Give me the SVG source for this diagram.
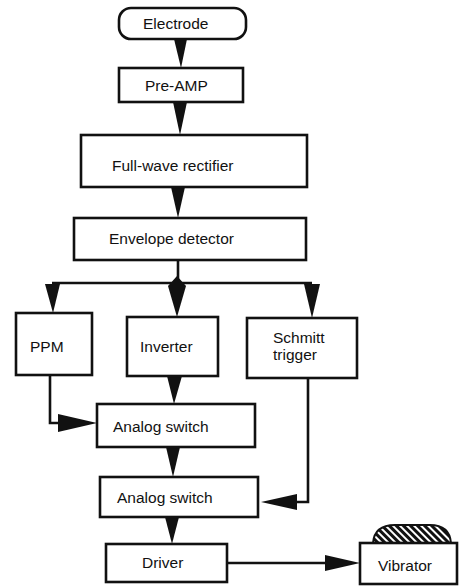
<svg xmlns="http://www.w3.org/2000/svg" width="459" height="587" viewBox="0 0 459 587">
<defs>
<style>
.box{fill:#fff;stroke:#111;stroke-width:2.6}
.lbl{font-family:"Liberation Sans",Arial,sans-serif;font-size:15.5px;fill:#111}
.ln{fill:none;stroke:#111;stroke-width:2.6}
.ah{fill:#111;stroke:none}
</style>
<pattern id="hatch" width="5" height="5" patternUnits="userSpaceOnUse" patternTransform="rotate(-45)">
<rect width="5" height="5" fill="#111"/>
<rect width="2" height="5" fill="#fff"/>
</pattern>
</defs>
<rect width="459" height="587" fill="#fff"/>

<g id="connectors">
<polygon class="ah" points="174,39 187,39 181,68"/>
<polygon class="ah" points="173,102 187,102 180,135"/>
<polygon class="ah" points="171,187 185,187 178,218"/>
<line class="ln" x1="178" y1="260" x2="178" y2="283"/>
<line class="ln" x1="52" y1="283" x2="312" y2="283"/>
<polygon class="ah" points="45,284 60,284 53,313"/>
<polygon class="ah" points="177,276 186,286 177,317 168,286"/>
<polygon class="ah" points="304,284 320,284 312,318"/>
<polyline class="ln" points="50,375 50,423 60,423"/>
<polygon class="ah" points="58,414 58,432 97,423"/>
<polygon class="ah" points="167,376 182,376 174,404"/>
<polygon class="ah" points="166,447 180,447 173,477"/>
<polyline class="ln" points="308,378 308,502 295,502"/>
<polygon class="ah" points="297,494 297,510 261,502"/>
<polygon class="ah" points="165,517 179,517 172,544"/>
<line class="ln" x1="227" y1="563" x2="327" y2="563"/>
<polygon class="ah" points="325,555 325,571 360,563"/>
</g>

<g id="electrode">
<rect class="box" x="119" y="8" width="127" height="31" rx="12"/>
<text class="lbl" x="143" y="29">Electrode</text>
</g>
<g id="preamp">
<rect class="box" x="119" y="68" width="124" height="34"/>
<text class="lbl" x="145" y="91">Pre-AMP</text>
</g>
<g id="rectifier">
<rect class="box" x="81" y="135" width="226" height="52"/>
<text class="lbl" x="112" y="171">Full-wave rectifier</text>
</g>
<g id="envelope">
<rect class="box" x="74" y="218" width="232" height="42"/>
<text class="lbl" x="109" y="244">Envelope detector</text>
</g>
<g id="ppm">
<rect class="box" x="16" y="313" width="76" height="62"/>
<text class="lbl" x="30" y="352">PPM</text>
</g>
<g id="inverter">
<rect class="box" x="127" y="317" width="91" height="59"/>
<text class="lbl" x="140" y="352">Inverter</text>
</g>
<g id="schmitt">
<rect class="box" x="247" y="318" width="110" height="60"/>
<text class="lbl" x="273" y="343">Schmitt</text>
<text class="lbl" x="273" y="360">trigger</text>
</g>
<g id="switch1">
<rect class="box" x="97" y="404" width="158" height="43"/>
<text class="lbl" x="113" y="432">Analog switch</text>
</g>
<g id="switch2">
<rect class="box" x="100" y="477" width="158" height="40"/>
<text class="lbl" x="117" y="503">Analog switch</text>
</g>
<g id="driver">
<rect class="box" x="106" y="544" width="121" height="38"/>
<text class="lbl" x="142" y="568">Driver</text>
</g>
<g id="vibrator">
<path d="M373,543 C374,530 382,525 395,525 L430,525 C443,525 450,531 451,543 Z" fill="url(#hatch)" stroke="#111" stroke-width="2"/>
<rect class="box" x="360" y="543" width="97" height="41"/>
<text class="lbl" x="378" y="571">Vibrator</text>
</g>
</svg>
